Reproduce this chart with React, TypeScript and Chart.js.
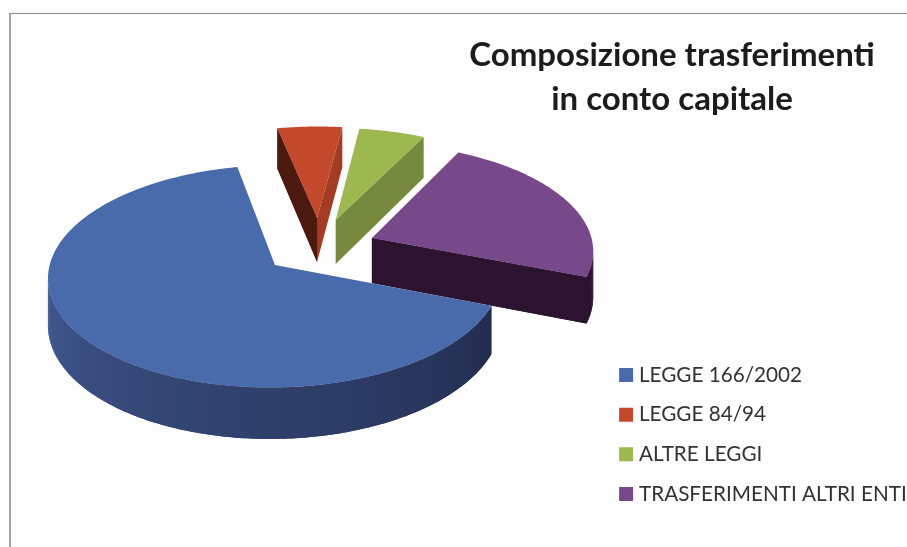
import React, { useEffect, useRef } from "react";
import { Chart, registerables } from "chart.js";

Chart.register(...registerables);

const categories = ["LEGGE 166/2002", "LEGGE 84/94", "ALTRE LEGGI", "TRASFERIMENTI ALTRI ENTI"];
const shares = [65.9, 5.3, 5.4, 23.4];
const topColors = ["#4a6bab", "#c3492c", "#9db84f", "#77488a"];
const wallLeftColors = ["#40588f", "#47170f", "#76893f", "#2c1430"];
const wallRightColors = ["#1f2848", "#a53d22", "#76893f", "#2c1430"];
const explodeX = [-44, -3, 16, 52];
const explodeY = [51, -47, -43, -4];
const titleLines = ["Composizione trasferimenti", "in conto capitale"];

const ORIGIN_X = 320;
const ORIGIN_Y = 240;
const TILT = 0.477;
const PERSPECTIVE = 0.000458;
const DEPTH = 45;
const DRAW_ORDER = [1, 2, 3, 0];
const FONT = "Lato, Carlito, 'Open Sans', sans-serif";

type Pt = [number, number];

function project(x: number, y: number, z: number): Pt {
  const w = 1 - PERSPECTIVE * y;
  return [ORIGIN_X + x / w, ORIGIN_Y + (TILT * y + z) / w];
}

function hexRgb(hex: string) {
  return [1, 3, 5].map((i) => parseInt(hex.slice(i, i + 2), 16));
}

function mix(a: string, b: string, t: number) {
  const ca = hexRgb(a);
  const cb = hexRgb(b);
  return `rgb(${ca.map((v, i) => Math.round(v + (cb[i] - v) * t)).join(",")})`;
}

// Collects the outline that the library's ArcElement traces.
function recordOutline(arc: any): { pts: Pt[]; fill: string } {
  const pts: Pt[] = [];
  let fill = "#000";
  const target: any = {
    beginPath() {
      pts.length = 0;
    },
    moveTo(x: number, y: number) {
      pts.push([x, y]);
    },
    lineTo(x: number, y: number) {
      pts.push([x, y]);
    },
    arc(x: number, y: number, r: number, a0: number, a1: number, ccw?: boolean) {
      let delta = a1 - a0;
      if (!ccw && delta < 0) delta += Math.PI * 2;
      if (ccw && delta > 0) delta -= Math.PI * 2;
      const n = Math.max(1, Math.ceil(Math.abs(delta) / 0.015));
      for (let i = 0; i <= n; i++) {
        const a = a0 + (delta * i) / n;
        pts.push([x + r * Math.cos(a), y + r * Math.sin(a)]);
      }
    },
  };
  const proxy = new Proxy(target, {
    get: (t, k) => (k in t ? t[k] : () => undefined),
    set: (t, k, v) => {
      if (k === "fillStyle") fill = v;
      t[k] = v;
      return true;
    },
  });
  arc.draw(proxy);
  return { pts, fill };
}

const pie3d = {
  id: "pie3d",
  beforeDatasetsDraw(chart: any) {
    const ctx: CanvasRenderingContext2D = chart.ctx;
    const arcs = chart.getDatasetMeta(0).data;
    for (const i of DRAW_ORDER) {
      const arc = arcs[i];
      const { pts, fill } = recordOutline(arc);
      const plane = pts
        .filter((p, k) => k === 0 || Math.hypot(p[0] - pts[k - 1][0], p[1] - pts[k - 1][1]) > 1e-6)
        .map(([x, y]) => [x - arc.x + explodeX[i], y - arc.y + explodeY[i]]);
      const top = plane.map(([x, y]) => project(x, y, 0));
      const bottom = plane.map(([x, y]) => project(x, y, DEPTH));
      const count = top.length;
      const facing = (k: number) => top[(k + 1) % count][0] - top[k][0] < 0;
      for (let k = 0; k < count; k++) {
        if (!facing(k)) continue;
        const n = (k + 1) % count;
        const dx = top[n][0] - top[k][0];
        const dy = top[n][1] - top[k][1];
        const len = Math.hypot(dx, dy);
        // Each quad runs over the next visible one, so no seam shows between them.
        const m = facing(n) ? (n + 1) % count : n;
        ctx.beginPath();
        ctx.moveTo(top[k][0], top[k][1]);
        ctx.lineTo(top[n][0], top[n][1]);
        ctx.lineTo(top[m][0], top[m][1]);
        ctx.lineTo(bottom[m][0], bottom[m][1]);
        ctx.lineTo(bottom[n][0], bottom[n][1]);
        ctx.lineTo(bottom[k][0], bottom[k][1]);
        ctx.closePath();
        ctx.fillStyle = mix(wallLeftColors[i], wallRightColors[i], (dy / len + 1) / 2);
        ctx.fill();
      }
      ctx.beginPath();
      top.forEach(([x, y], k) => (k ? ctx.lineTo(x, y) : ctx.moveTo(x, y)));
      ctx.closePath();
      ctx.fillStyle = fill;
      ctx.fill();
    }
    return false;
  },
};

const frame = {
  id: "frame",
  beforeDraw(chart: any) {
    const { ctx, width, height } = chart;
    ctx.save();
    ctx.fillStyle = "#fdfdfd";
    ctx.fillRect(0, 0, width, height);
    ctx.fillStyle = "#a6a6a6";
    ctx.fillRect(9, 13, 2, height - 13);
    ctx.fillStyle = "#8f8f8f";
    ctx.fillRect(9, 13, width - 9, 1);
    ctx.restore();
  },
  afterLayout(chart: any) {
    const t = chart.titleBlock;
    t.left = 400;
    t.right = 944;
    t.top = 33;
    t.bottom = 125;
    const l = chart.legend;
    l.left = 604.6;
    l.right = 907;
    l.top = 345.6;
    l.bottom = 640;
  },
};

export default function App() {
  const ref = useRef<HTMLCanvasElement>(null);
  useEffect(() => {
    const chart = new Chart(ref.current!, {
      type: "pie",
      data: {
        labels: categories,
        datasets: [{ data: shares, backgroundColor: topColors, borderWidth: 0 }],
      },
      options: {
        animation: false,
        responsive: false,
        rotation: 111,
        radius: 220,
        plugins: {
          tooltip: { enabled: false },
          title: {
            display: true,
            text: titleLines,
            color: "#1c1c1c",
            padding: 0,
            font: { family: FONT, size: 33, weight: "bold", lineHeight: 1.333 },
          },
          legend: {
            display: true,
            position: "right",
            align: "start",
            labels: {
              color: "#333333",
              usePointStyle: true,
              pointStyle: "rect",
              boxWidth: 5,
              boxHeight: 14,
              padding: 19,
              font: { family: FONT, size: 20.7 },
            },
          },
        },
      },
      plugins: [frame, pie3d],
    } as any);
    return () => chart.destroy();
  }, []);
  return (
    <div style={{ position: "absolute", left: 0, top: 0 }}>
      <canvas ref={ref} width={907} height={547} style={{ display: "block", filter: "blur(0.5px)" }} />
    </div>
  );
}
